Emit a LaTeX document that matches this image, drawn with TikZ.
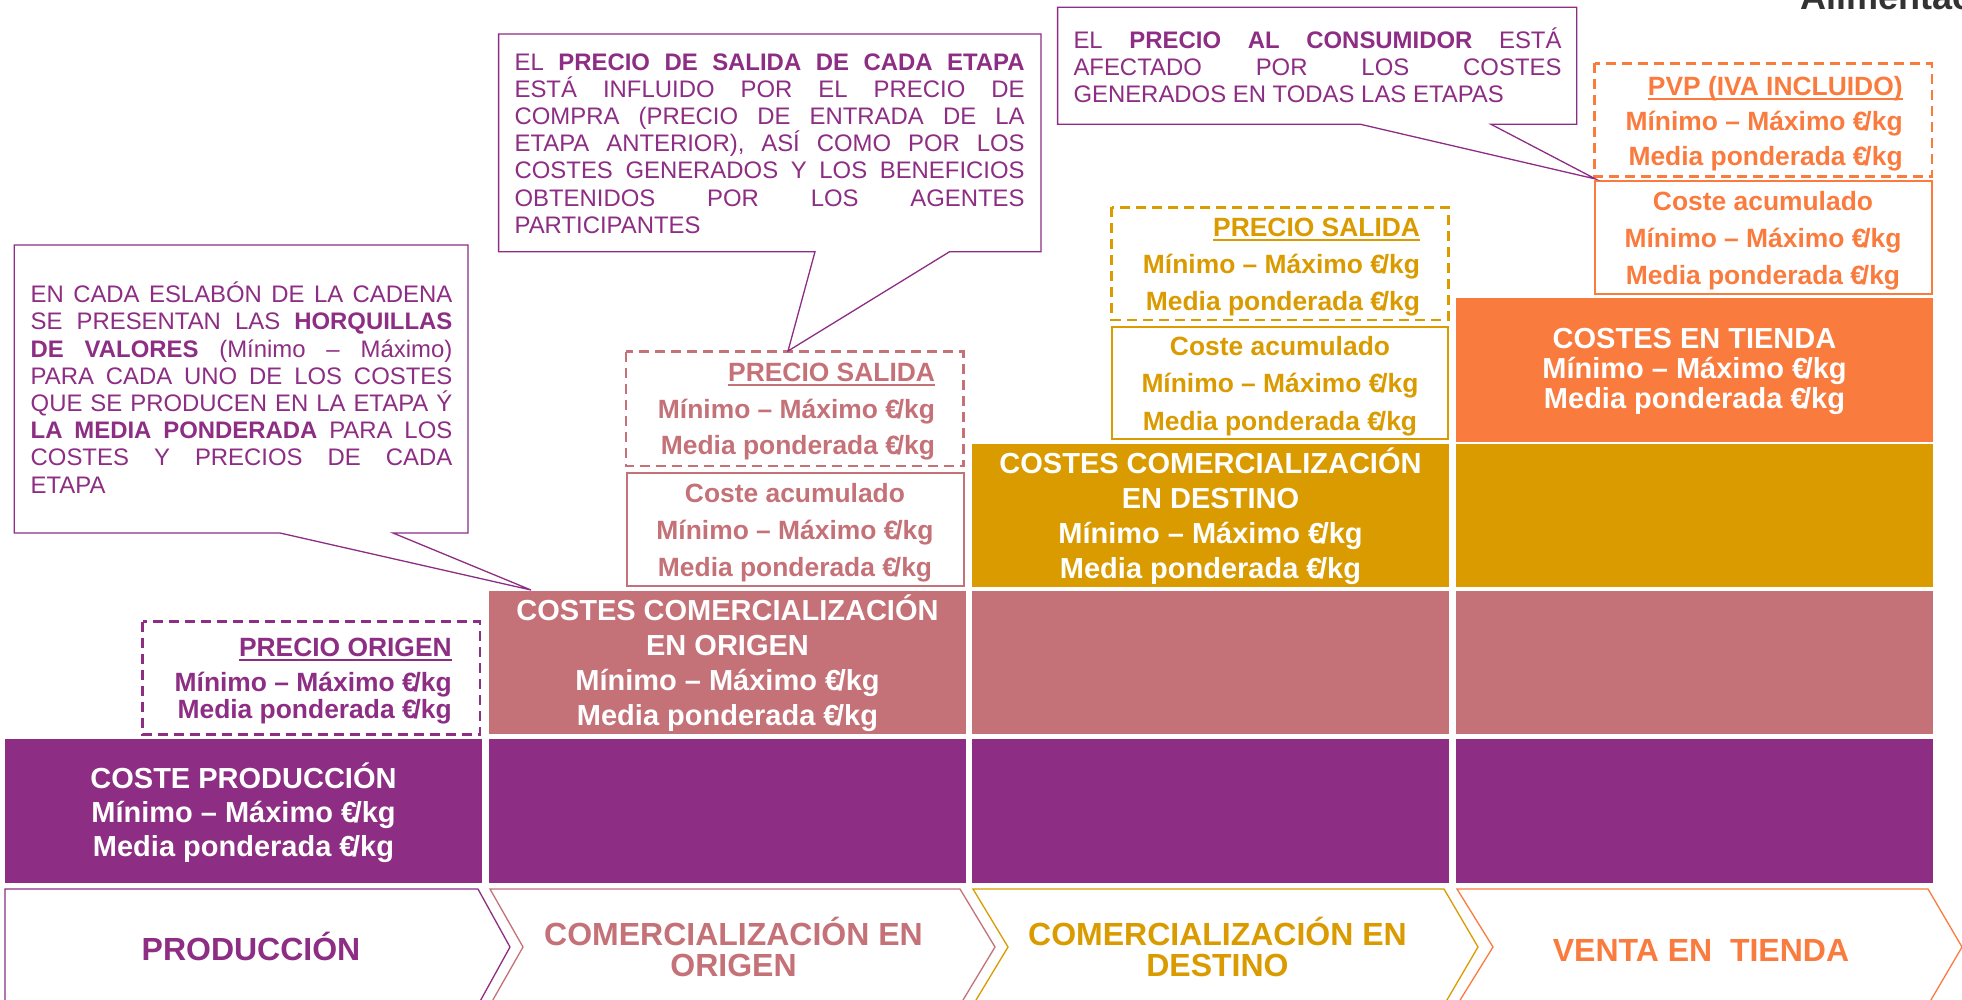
\documentclass[tikz,border=0pt]{standalone}
\usepackage{fontspec}
\setmainfont{Liberation Sans}
\definecolor{cpur}{RGB}{141,45,131}
\definecolor{cpink}{RGB}{196,113,119}
\definecolor{cgold}{RGB}{218,155,0}
\definecolor{corange}{RGB}{250,123,62}
\newcommand\ek{€\kern-0.12em/kg}
\newcommand\myul[1]{\leavevmode\setbox0\hbox{#1}\rlap{\rule[-4pt]{\wd0}{2pt}}\box0}
\newcommand\jl[1]{\leavevmode\makebox[\linewidth][s]{#1}}
\tikzset{
  txt/.style={inner sep=0pt, outer sep=0pt},
  wtxt/.style={txt, text=white, font=\bfseries},
  btxt/.style={txt, font=\bfseries},
  dbox/.style={draw, line width=2.5pt, dash pattern=on 10pt off 6pt, fill=white},
  sbox/.style={draw, line width=2pt, fill=white},
  callout/.style={draw=cpur, line width=1.3pt, fill=white, line join=miter},
  ctxt/.style={txt, text=cpur},
  chev/.style={line width=1.3pt, fill=white, line join=miter},
}
\begin{document}
\begin{tikzpicture}[x=1pt,y=-1pt]
\useasboundingbox (0,0) rectangle (1962,999);
\fill[white] (0,0) rectangle (1962,999);

% partial logo text at the top edge
\node[txt, anchor=base west, text=black!80, font=\bfseries\fontsize{36}{36}\selectfont] (logo) at (1800,9) {Alimentación};

% ---------- stacked blocks ----------
\fill[cpur] (5,739) rectangle (482,883);
\fill[cpur] (489,739) rectangle (966,883);
\fill[cpur] (972,739) rectangle (1449,883);
\fill[cpur] (1456,739) rectangle (1933,883);
\fill[cpink] (489,591) rectangle (966,734);
\fill[cpink] (972,591) rectangle (1449,734);
\fill[cpink] (1456,591) rectangle (1933,734);
\fill[cgold] (972,444) rectangle (1449,587);
\fill[cgold] (1456,444) rectangle (1933,587);
\fill[corange] (1456,298) rectangle (1933,442);

\node[wtxt, anchor=base] (prodtxt) at (243.5,788)
  {\parbox[t]{470pt}{\centering\fontsize{29}{34}\selectfont COSTE PRODUCCIÓN\\Mínimo – Máximo \ek\\Media ponderada \ek}};
\node[wtxt, anchor=base] (origtxt) at (727.5,620)
  {\parbox[t]{470pt}{\centering\fontsize{29}{35.3}\selectfont COSTES COMERCIALIZACIÓN\\EN ORIGEN\\Mínimo – Máximo \ek\\Media ponderada \ek}};
\node[wtxt, anchor=base] (desttxt) at (1210.5,473.3)
  {\parbox[t]{470pt}{\centering\fontsize{29}{35}\selectfont COSTES COMERCIALIZACIÓN\\EN DESTINO\\Mínimo – Máximo \ek\\Media ponderada \ek}};
\node[wtxt, anchor=base] (tiendatxt) at (1694.5,348.3)
  {\parbox[t]{470pt}{\centering\fontsize{29}{30}\selectfont COSTES EN TIENDA\\Mínimo – Máximo \ek\\Media ponderada \ek}};

% ---------- price / accumulated-cost boxes ----------
\draw[dbox, draw=cpur] (142.7,621.7) rectangle (480,734.7);
\node[btxt, text=cpur, anchor=base east] (potxt) at (451.7,656.7)
  {\parbox[t]{330pt}{\raggedleft\fontsize{26.4}{27}\selectfont\myul{PRECIO ORIGEN}\\[7.3pt]Mínimo – Máximo \ek\\Media ponderada \ek}};

\draw[dbox, draw=cpink] (626,351.7) rectangle (963.3,466);
\node[btxt, text=cpink, anchor=base east] (ps1txt) at (935,381.7)
  {\parbox[t]{330pt}{\raggedleft\fontsize{26.4}{36.6}\selectfont\myul{PRECIO SALIDA}\\Mínimo – Máximo \ek\\Media ponderada \ek}};
\draw[sbox, draw=cpink] (626.8,472.5) rectangle (963.6,586);
\node[btxt, text=cpink, anchor=base] (ca1txt) at (795,502)
  {\parbox[t]{330pt}{\centering\fontsize{26.4}{37}\selectfont Coste acumulado\\Mínimo – Máximo \ek\\Media ponderada \ek}};

\draw[dbox, draw=cgold] (1111.7,207.3) rectangle (1448.3,320);
\node[btxt, text=cgold, anchor=base east] (ps2txt) at (1420,236.7)
  {\parbox[t]{330pt}{\raggedleft\fontsize{26.4}{36.65}\selectfont\myul{PRECIO SALIDA}\\Mínimo – Máximo \ek\\Media ponderada \ek}};
\draw[sbox, draw=cgold] (1111.7,326.7) rectangle (1448.3,439.3);
\node[btxt, text=cgold, anchor=base] (ca2txt) at (1280,355.7)
  {\parbox[t]{330pt}{\centering\fontsize{26.4}{37.2}\selectfont Coste acumulado\\Mínimo – Máximo \ek\\Media ponderada \ek}};

\draw[dbox, draw=corange] (1594.5,63.3) rectangle (1932,176.7);
\node[btxt, text=corange, anchor=base east] (pvptxt) at (1902.6,95.7)
  {\parbox[t]{330pt}{\raggedleft\fontsize{26.4}{35}\selectfont\myul{PVP (IVA INCLUIDO)}\\Mínimo – Máximo \ek\\Media ponderada \ek}};
\draw[sbox, draw=corange] (1594.5,181) rectangle (1932,294);
\node[btxt, text=corange, anchor=base] (ca3txt) at (1763,210)
  {\parbox[t]{330pt}{\centering\fontsize{26.4}{37}\selectfont Coste acumulado\\Mínimo – Máximo \ek\\Media ponderada \ek}};

% ---------- callouts ----------
\coordinate (tipA) at (531,590);
\coordinate (tipB) at (788,351);
\coordinate (tipC) at (1595.6,179);

\draw[callout] (14.3,245) -- (468,245) -- (468,533) -- (393,533) -- (tipA) -- (280,533) -- (14.3,533) -- cycle;
\node[ctxt, anchor=base west] (calAtxt) at (30.7,302.7)
  {\parbox[t]{421.6pt}{\fontsize{23.9}{27.2}\selectfont
   \jl{EN CADA ESLABÓN DE LA CADENA}\\
   \jl{SE PRESENTAN LAS \textbf{HORQUILLAS}}\\
   \jl{\textbf{DE VALORES} (Mínimo – Máximo)}\\
   \jl{PARA CADA UNO DE LOS COSTES}\\
   \jl{QUE SE PRODUCEN EN LA ETAPA Ý}\\
   \jl{\textbf{LA MEDIA PONDERADA} PARA LOS}\\
   \jl{COSTES Y PRECIOS DE CADA}\\
   ETAPA}};

\draw[callout] (498.6,34) -- (1041,34) -- (1041,251.7) -- (949.6,251.7) -- (tipB) -- (815,251.7) -- (498.6,251.7) -- cycle;
\node[ctxt, anchor=base west] (calBtxt) at (514.6,70)
  {\parbox[t]{510pt}{\fontsize{23.9}{27.2}\selectfont
   \jl{EL \textbf{PRECIO DE SALIDA DE CADA ETAPA}}\\
   \jl{ESTÁ INFLUIDO POR EL PRECIO DE}\\
   \jl{COMPRA (PRECIO DE ENTRADA DE LA}\\
   \jl{ETAPA ANTERIOR), ASÍ COMO POR LOS}\\
   \jl{COSTES GENERADOS Y LOS BENEFICIOS}\\
   \jl{OBTENIDOS POR LOS AGENTES}\\
   PARTICIPANTES}};

\draw[callout] (1057.6,7.3) -- (1576.8,7.3) -- (1576.8,124.3) -- (1491,124.3) -- (tipC) -- (1360.5,124.3) -- (1057.6,124.3) -- cycle;
\node[ctxt, anchor=base west] (calCtxt) at (1073.5,48.3)
  {\parbox[t]{488pt}{\fontsize{23.9}{27}\selectfont
   \jl{EL \textbf{PRECIO AL CONSUMIDOR} ESTÁ}\\
   \jl{AFECTADO POR LOS COSTES}\\
   GENERADOS EN TODAS LAS ETAPAS}};

% ---------- stage chevrons ----------
\draw[chev, draw=cpur] (5,889) -- (478,889) -- (510,947) -- (478,1005) -- (5,1005) -- cycle;
\draw[chev, draw=cpink] (490,889) -- (960,889) -- (995,947) -- (960,1005) -- (490,1005) -- (523,947) -- cycle;
\draw[chev, draw=cgold] (973,889) -- (1444,889) -- (1478,947) -- (1444,1005) -- (973,1005) -- (1008,947) -- cycle;
\draw[chev, draw=corange] (1457,889) -- (1928,889) -- (1962,947) -- (1928,1005) -- (1457,1005) -- (1493,947) -- cycle;

\node[btxt, text=cpur, anchor=base] (st1) at (251,960.5) {\fontsize{32}{32}\selectfont PRODUCCIÓN};
\node[btxt, text=cpink, anchor=base] (st2) at (733.5,945)
  {\parbox[t]{430pt}{\centering\fontsize{32}{31.7}\selectfont COMERCIALIZACIÓN EN\\ORIGEN}};
\node[btxt, text=cgold, anchor=base] (st3) at (1217.5,945)
  {\parbox[t]{430pt}{\centering\fontsize{32}{31.7}\selectfont COMERCIALIZACIÓN EN\\DESTINO}};
\node[btxt, text=corange, anchor=base] (st4) at (1701,961) {\fontsize{32}{32}\selectfont VENTA EN~~TIENDA};
\end{tikzpicture}
\end{document}
